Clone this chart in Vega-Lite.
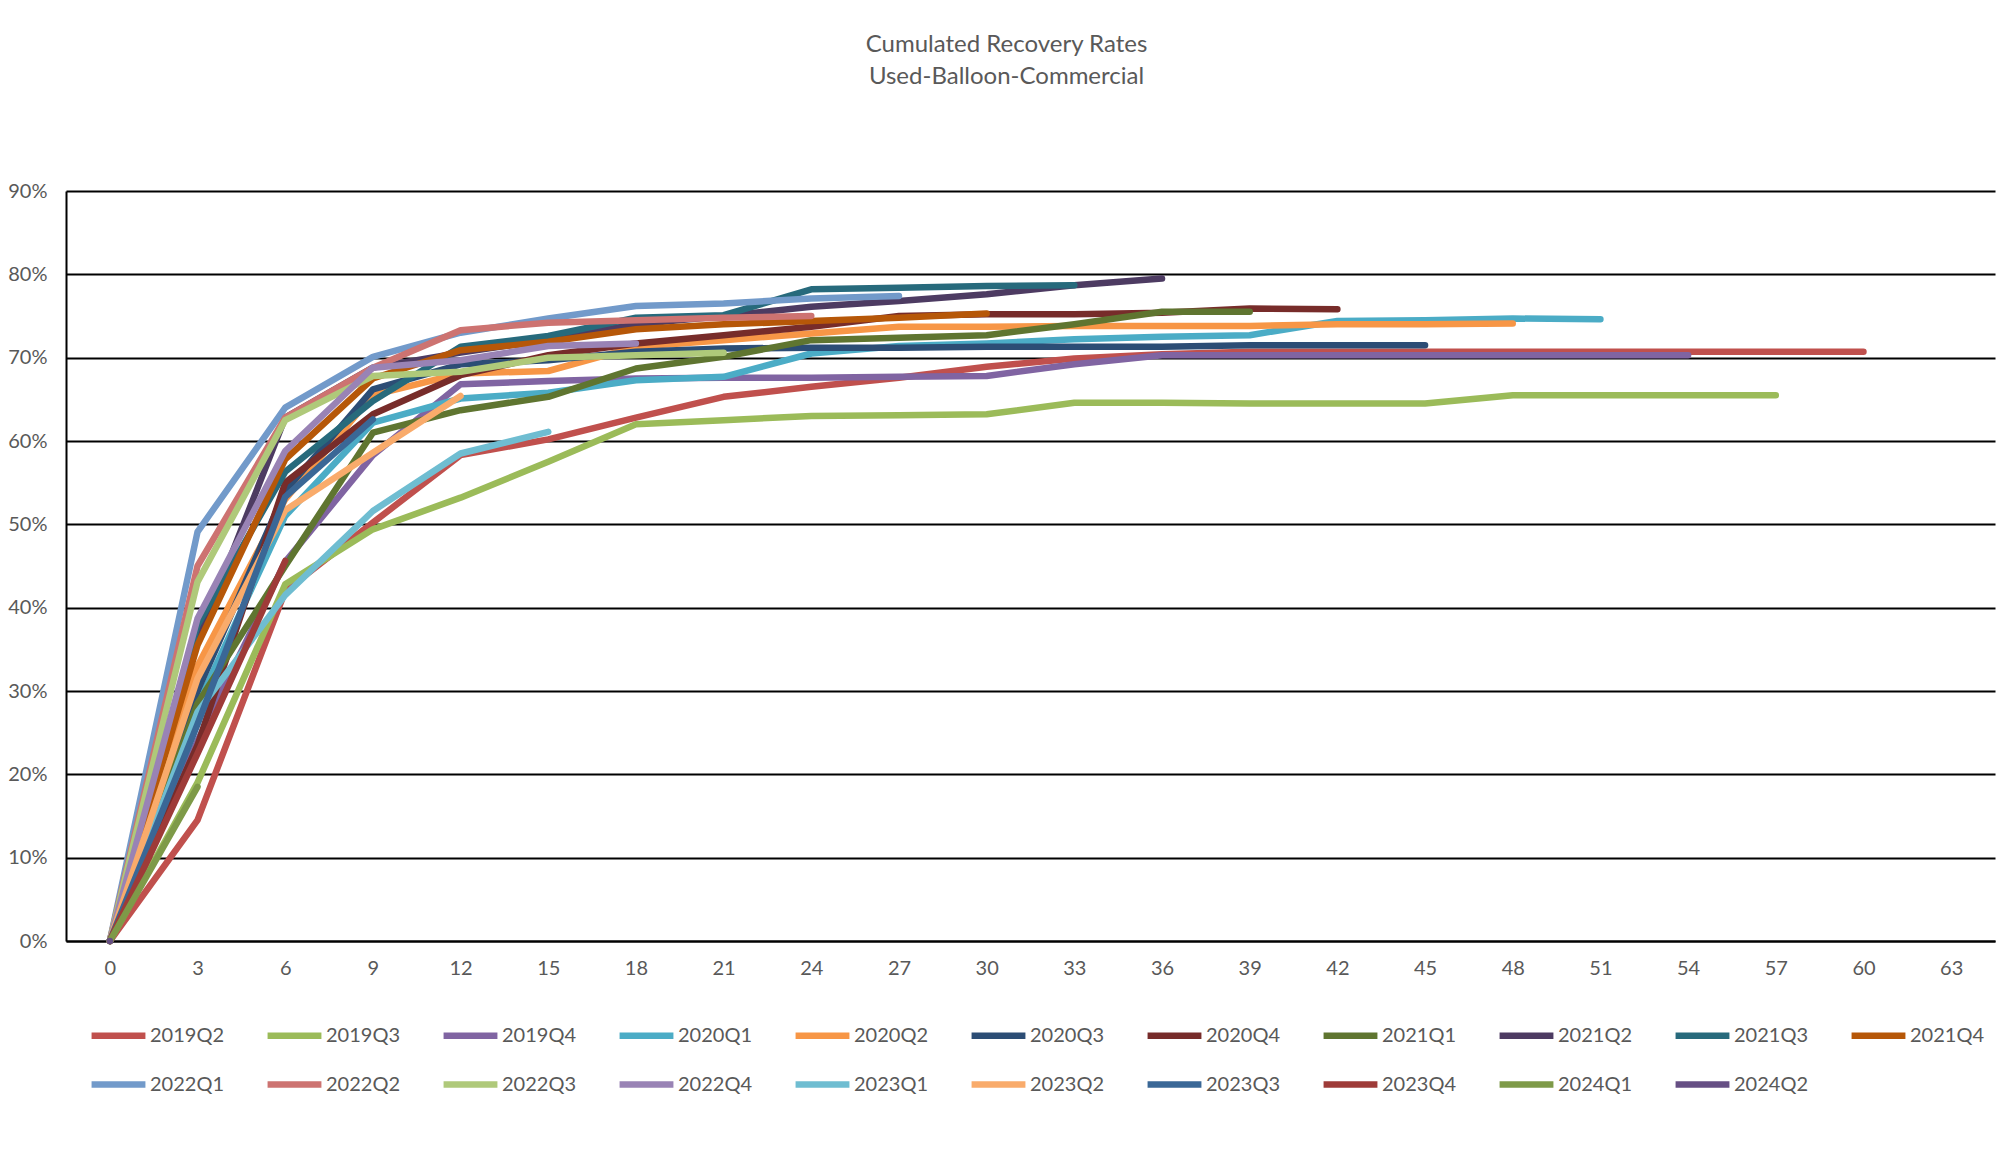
{
"$schema": "https://vega.github.io/schema/vega-lite/v6.json",
"width": 1929, "height": 750,
"autosize": {"type": "none"},
"padding": {"left": 66, "top": 191, "right": 5, "bottom": 211},
"background": "white",
"title": {"text": ["Cumulated Recovery Rates", "Used-Balloon-Commercial"], "anchor": "middle", "frame": "group", "dx": -24, "offset": 92, "fontSize": 24, "font": "Lato", "fontWeight": "normal", "color": "#595959", "lineHeight": 32},
"datasets": {"rates": [
{"q":"2019Q2","m":0,"v":0},{"q":"2019Q2","m":3,"v":0.145},{"q":"2019Q2","m":6,"v":0.42},{"q":"2019Q2","m":9,"v":0.502},{"q":"2019Q2","m":12,"v":0.583},{"q":"2019Q2","m":15,"v":0.602},{"q":"2019Q2","m":18,"v":0.628},{"q":"2019Q2","m":21,"v":0.653},{"q":"2019Q2","m":24,"v":0.665},{"q":"2019Q2","m":27,"v":0.676},{"q":"2019Q2","m":30,"v":0.689},{"q":"2019Q2","m":33,"v":0.699},{"q":"2019Q2","m":36,"v":0.704},{"q":"2019Q2","m":39,"v":0.707},{"q":"2019Q2","m":42,"v":0.707},{"q":"2019Q2","m":45,"v":0.707},{"q":"2019Q2","m":48,"v":0.707},{"q":"2019Q2","m":51,"v":0.707},{"q":"2019Q2","m":54,"v":0.707},{"q":"2019Q2","m":57,"v":0.707},{"q":"2019Q2","m":60,"v":0.707},
{"q":"2019Q3","m":0,"v":0},{"q":"2019Q3","m":3,"v":0.19},{"q":"2019Q3","m":6,"v":0.428},{"q":"2019Q3","m":9,"v":0.494},{"q":"2019Q3","m":12,"v":0.532},{"q":"2019Q3","m":15,"v":0.575},{"q":"2019Q3","m":18,"v":0.62},{"q":"2019Q3","m":21,"v":0.625},{"q":"2019Q3","m":24,"v":0.63},{"q":"2019Q3","m":27,"v":0.631},{"q":"2019Q3","m":30,"v":0.632},{"q":"2019Q3","m":33,"v":0.646},{"q":"2019Q3","m":36,"v":0.646},{"q":"2019Q3","m":39,"v":0.645},{"q":"2019Q3","m":42,"v":0.645},{"q":"2019Q3","m":45,"v":0.645},{"q":"2019Q3","m":48,"v":0.655},{"q":"2019Q3","m":51,"v":0.655},{"q":"2019Q3","m":54,"v":0.655},{"q":"2019Q3","m":57,"v":0.655},
{"q":"2019Q4","m":0,"v":0},{"q":"2019Q4","m":3,"v":0.24},{"q":"2019Q4","m":6,"v":0.455},{"q":"2019Q4","m":9,"v":0.583},{"q":"2019Q4","m":12,"v":0.668},{"q":"2019Q4","m":15,"v":0.672},{"q":"2019Q4","m":18,"v":0.675},{"q":"2019Q4","m":21,"v":0.676},{"q":"2019Q4","m":24,"v":0.676},{"q":"2019Q4","m":27,"v":0.677},{"q":"2019Q4","m":30,"v":0.678},{"q":"2019Q4","m":33,"v":0.692},{"q":"2019Q4","m":36,"v":0.703},{"q":"2019Q4","m":39,"v":0.703},{"q":"2019Q4","m":42,"v":0.703},{"q":"2019Q4","m":45,"v":0.703},{"q":"2019Q4","m":48,"v":0.703},{"q":"2019Q4","m":51,"v":0.703},{"q":"2019Q4","m":54,"v":0.703},
{"q":"2020Q1","m":0,"v":0},{"q":"2020Q1","m":3,"v":0.283},{"q":"2020Q1","m":6,"v":0.51},{"q":"2020Q1","m":9,"v":0.622},{"q":"2020Q1","m":12,"v":0.651},{"q":"2020Q1","m":15,"v":0.658},{"q":"2020Q1","m":18,"v":0.673},{"q":"2020Q1","m":21,"v":0.677},{"q":"2020Q1","m":24,"v":0.705},{"q":"2020Q1","m":27,"v":0.714},{"q":"2020Q1","m":30,"v":0.717},{"q":"2020Q1","m":33,"v":0.722},{"q":"2020Q1","m":36,"v":0.725},{"q":"2020Q1","m":39,"v":0.727},{"q":"2020Q1","m":42,"v":0.744},{"q":"2020Q1","m":45,"v":0.745},{"q":"2020Q1","m":48,"v":0.747},{"q":"2020Q1","m":51,"v":0.746},
{"q":"2020Q2","m":0,"v":0},{"q":"2020Q2","m":3,"v":0.33},{"q":"2020Q2","m":6,"v":0.53},{"q":"2020Q2","m":9,"v":0.655},{"q":"2020Q2","m":12,"v":0.681},{"q":"2020Q2","m":15,"v":0.684},{"q":"2020Q2","m":18,"v":0.713},{"q":"2020Q2","m":21,"v":0.721},{"q":"2020Q2","m":24,"v":0.729},{"q":"2020Q2","m":27,"v":0.737},{"q":"2020Q2","m":30,"v":0.737},{"q":"2020Q2","m":33,"v":0.738},{"q":"2020Q2","m":36,"v":0.738},{"q":"2020Q2","m":39,"v":0.738},{"q":"2020Q2","m":42,"v":0.74},{"q":"2020Q2","m":45,"v":0.74},{"q":"2020Q2","m":48,"v":0.741},
{"q":"2020Q3","m":0,"v":0},{"q":"2020Q3","m":3,"v":0.30},{"q":"2020Q3","m":6,"v":0.54},{"q":"2020Q3","m":9,"v":0.662},{"q":"2020Q3","m":12,"v":0.692},{"q":"2020Q3","m":15,"v":0.697},{"q":"2020Q3","m":18,"v":0.707},{"q":"2020Q3","m":21,"v":0.711},{"q":"2020Q3","m":24,"v":0.712},{"q":"2020Q3","m":27,"v":0.712},{"q":"2020Q3","m":30,"v":0.713},{"q":"2020Q3","m":33,"v":0.713},{"q":"2020Q3","m":36,"v":0.713},{"q":"2020Q3","m":39,"v":0.715},{"q":"2020Q3","m":42,"v":0.715},{"q":"2020Q3","m":45,"v":0.715},
{"q":"2020Q4","m":0,"v":0},{"q":"2020Q4","m":3,"v":0.235},{"q":"2020Q4","m":6,"v":0.55},{"q":"2020Q4","m":9,"v":0.632},{"q":"2020Q4","m":12,"v":0.679},{"q":"2020Q4","m":15,"v":0.703},{"q":"2020Q4","m":18,"v":0.717},{"q":"2020Q4","m":21,"v":0.727},{"q":"2020Q4","m":24,"v":0.737},{"q":"2020Q4","m":27,"v":0.75},{"q":"2020Q4","m":30,"v":0.752},{"q":"2020Q4","m":33,"v":0.752},{"q":"2020Q4","m":36,"v":0.754},{"q":"2020Q4","m":39,"v":0.759},{"q":"2020Q4","m":42,"v":0.758},
{"q":"2021Q1","m":0,"v":0},{"q":"2021Q1","m":3,"v":0.285},{"q":"2021Q1","m":6,"v":0.45},{"q":"2021Q1","m":9,"v":0.61},{"q":"2021Q1","m":12,"v":0.637},{"q":"2021Q1","m":15,"v":0.653},{"q":"2021Q1","m":18,"v":0.687},{"q":"2021Q1","m":21,"v":0.701},{"q":"2021Q1","m":24,"v":0.721},{"q":"2021Q1","m":27,"v":0.724},{"q":"2021Q1","m":30,"v":0.727},{"q":"2021Q1","m":33,"v":0.74},{"q":"2021Q1","m":36,"v":0.755},{"q":"2021Q1","m":39,"v":0.755},
{"q":"2021Q2","m":0,"v":0},{"q":"2021Q2","m":3,"v":0.36},{"q":"2021Q2","m":6,"v":0.628},{"q":"2021Q2","m":9,"v":0.688},{"q":"2021Q2","m":12,"v":0.706},{"q":"2021Q2","m":15,"v":0.722},{"q":"2021Q2","m":18,"v":0.74},{"q":"2021Q2","m":21,"v":0.75},{"q":"2021Q2","m":24,"v":0.761},{"q":"2021Q2","m":27,"v":0.768},{"q":"2021Q2","m":30,"v":0.776},{"q":"2021Q2","m":33,"v":0.787},{"q":"2021Q2","m":36,"v":0.795},
{"q":"2021Q3","m":0,"v":0},{"q":"2021Q3","m":3,"v":0.379},{"q":"2021Q3","m":6,"v":0.563},{"q":"2021Q3","m":9,"v":0.648},{"q":"2021Q3","m":12,"v":0.713},{"q":"2021Q3","m":15,"v":0.726},{"q":"2021Q3","m":18,"v":0.748},{"q":"2021Q3","m":21,"v":0.751},{"q":"2021Q3","m":24,"v":0.782},{"q":"2021Q3","m":27,"v":0.784},{"q":"2021Q3","m":30,"v":0.786},{"q":"2021Q3","m":33,"v":0.787},
{"q":"2021Q4","m":0,"v":0},{"q":"2021Q4","m":3,"v":0.355},{"q":"2021Q4","m":6,"v":0.578},{"q":"2021Q4","m":9,"v":0.675},{"q":"2021Q4","m":12,"v":0.709},{"q":"2021Q4","m":15,"v":0.719},{"q":"2021Q4","m":18,"v":0.734},{"q":"2021Q4","m":21,"v":0.74},{"q":"2021Q4","m":24,"v":0.744},{"q":"2021Q4","m":27,"v":0.748},{"q":"2021Q4","m":30,"v":0.753},
{"q":"2022Q1","m":0,"v":0},{"q":"2022Q1","m":3,"v":0.491},{"q":"2022Q1","m":6,"v":0.64},{"q":"2022Q1","m":9,"v":0.701},{"q":"2022Q1","m":12,"v":0.73},{"q":"2022Q1","m":15,"v":0.747},{"q":"2022Q1","m":18,"v":0.762},{"q":"2022Q1","m":21,"v":0.765},{"q":"2022Q1","m":24,"v":0.771},{"q":"2022Q1","m":27,"v":0.774},
{"q":"2022Q2","m":0,"v":0},{"q":"2022Q2","m":3,"v":0.45},{"q":"2022Q2","m":6,"v":0.628},{"q":"2022Q2","m":9,"v":0.688},{"q":"2022Q2","m":12,"v":0.733},{"q":"2022Q2","m":15,"v":0.742},{"q":"2022Q2","m":18,"v":0.745},{"q":"2022Q2","m":21,"v":0.748},{"q":"2022Q2","m":24,"v":0.75},
{"q":"2022Q3","m":0,"v":0},{"q":"2022Q3","m":3,"v":0.431},{"q":"2022Q3","m":6,"v":0.625},{"q":"2022Q3","m":9,"v":0.678},{"q":"2022Q3","m":12,"v":0.683},{"q":"2022Q3","m":15,"v":0.70},{"q":"2022Q3","m":18,"v":0.703},{"q":"2022Q3","m":21,"v":0.706},
{"q":"2022Q4","m":0,"v":0},{"q":"2022Q4","m":3,"v":0.387},{"q":"2022Q4","m":6,"v":0.588},{"q":"2022Q4","m":9,"v":0.688},{"q":"2022Q4","m":12,"v":0.697},{"q":"2022Q4","m":15,"v":0.714},{"q":"2022Q4","m":18,"v":0.717},
{"q":"2023Q1","m":0,"v":0},{"q":"2023Q1","m":3,"v":0.275},{"q":"2023Q1","m":6,"v":0.415},{"q":"2023Q1","m":9,"v":0.516},{"q":"2023Q1","m":12,"v":0.585},{"q":"2023Q1","m":15,"v":0.611},
{"q":"2023Q2","m":0,"v":0},{"q":"2023Q2","m":3,"v":0.315},{"q":"2023Q2","m":6,"v":0.517},{"q":"2023Q2","m":9,"v":0.586},{"q":"2023Q2","m":12,"v":0.654},
{"q":"2023Q3","m":0,"v":0},{"q":"2023Q3","m":3,"v":0.26},{"q":"2023Q3","m":6,"v":0.533},{"q":"2023Q3","m":9,"v":0.626},
{"q":"2023Q4","m":0,"v":0},{"q":"2023Q4","m":3,"v":0.225},{"q":"2023Q4","m":6,"v":0.456},
{"q":"2024Q1","m":0,"v":0},{"q":"2024Q1","m":3,"v":0.185},
{"q":"2024Q2","m":0,"v":0}
]},
"data": {"name": "rates"},
"mark": {"type": "line", "strokeWidth": 6.5, "strokeCap": "round", "strokeJoin": "round"},
"encoding": {
"x": {"field": "m", "type": "quantitative", "scale": {"domain": [-1.5, 64.5], "nice": false, "zero": false},
"axis": {"values": [0,3,6,9,12,15,18,21,24,27,30,33,36,39,42,45,48,51,54,57,60,63], "title": null, "grid": false, "ticks": false, "labelPadding": 17, "domainColor": "#000000", "domainWidth": 2, "labelFontSize": 20, "labelFont": "Lato", "labelColor": "#595959", "labelFlush": false}},
"y": {"field": "v", "type": "quantitative", "scale": {"domain": [0, 0.9], "nice": false},
"axis": {"values": [0,0.1,0.2,0.3,0.4,0.5,0.6,0.7,0.8,0.9], "format": ".0%", "title": null, "ticks": false, "labelPadding": 19, "grid": true, "gridColor": "#000000", "gridWidth": 2, "gridOpacity": 1, "domainColor": "#000000", "domainWidth": 2, "labelFontSize": 20, "labelFont": "Lato", "labelColor": "#595959"}},
"color": {"field": "q", "type": "nominal",
"scale": {"domain": ["2019Q2","2019Q3","2019Q4","2020Q1","2020Q2","2020Q3","2020Q4","2021Q1","2021Q2","2021Q3","2021Q4","2022Q1","2022Q2","2022Q3","2022Q4","2023Q1","2023Q2","2023Q3","2023Q4","2024Q1","2024Q2"],
"range": ["#C0504D","#9BBB59","#8064A2","#4BACC6","#F79646","#2C4D75","#772C2A","#5F7530","#4D3B62","#276A7C","#B65708","#729ACA","#CD7371","#AFC97A","#9983B5","#6FBDD1","#F9AB6B","#3A6796","#9E3B38","#7E9A48","#664F84"]},
"legend": {"title": null, "orient": "none", "legendX": 22, "legendY": 814, "direction": "horizontal", "columns": 11, "symbolType": "stroke", "symbolStrokeWidth": 6.5, "symbolSize": 2900, "labelFontSize": 20, "labelFont": "Lato", "labelColor": "#595959", "labelOffset": 1, "columnPadding": 29, "rowPadding": 5}}
},
"config": {"view": {"stroke": null}}
}
